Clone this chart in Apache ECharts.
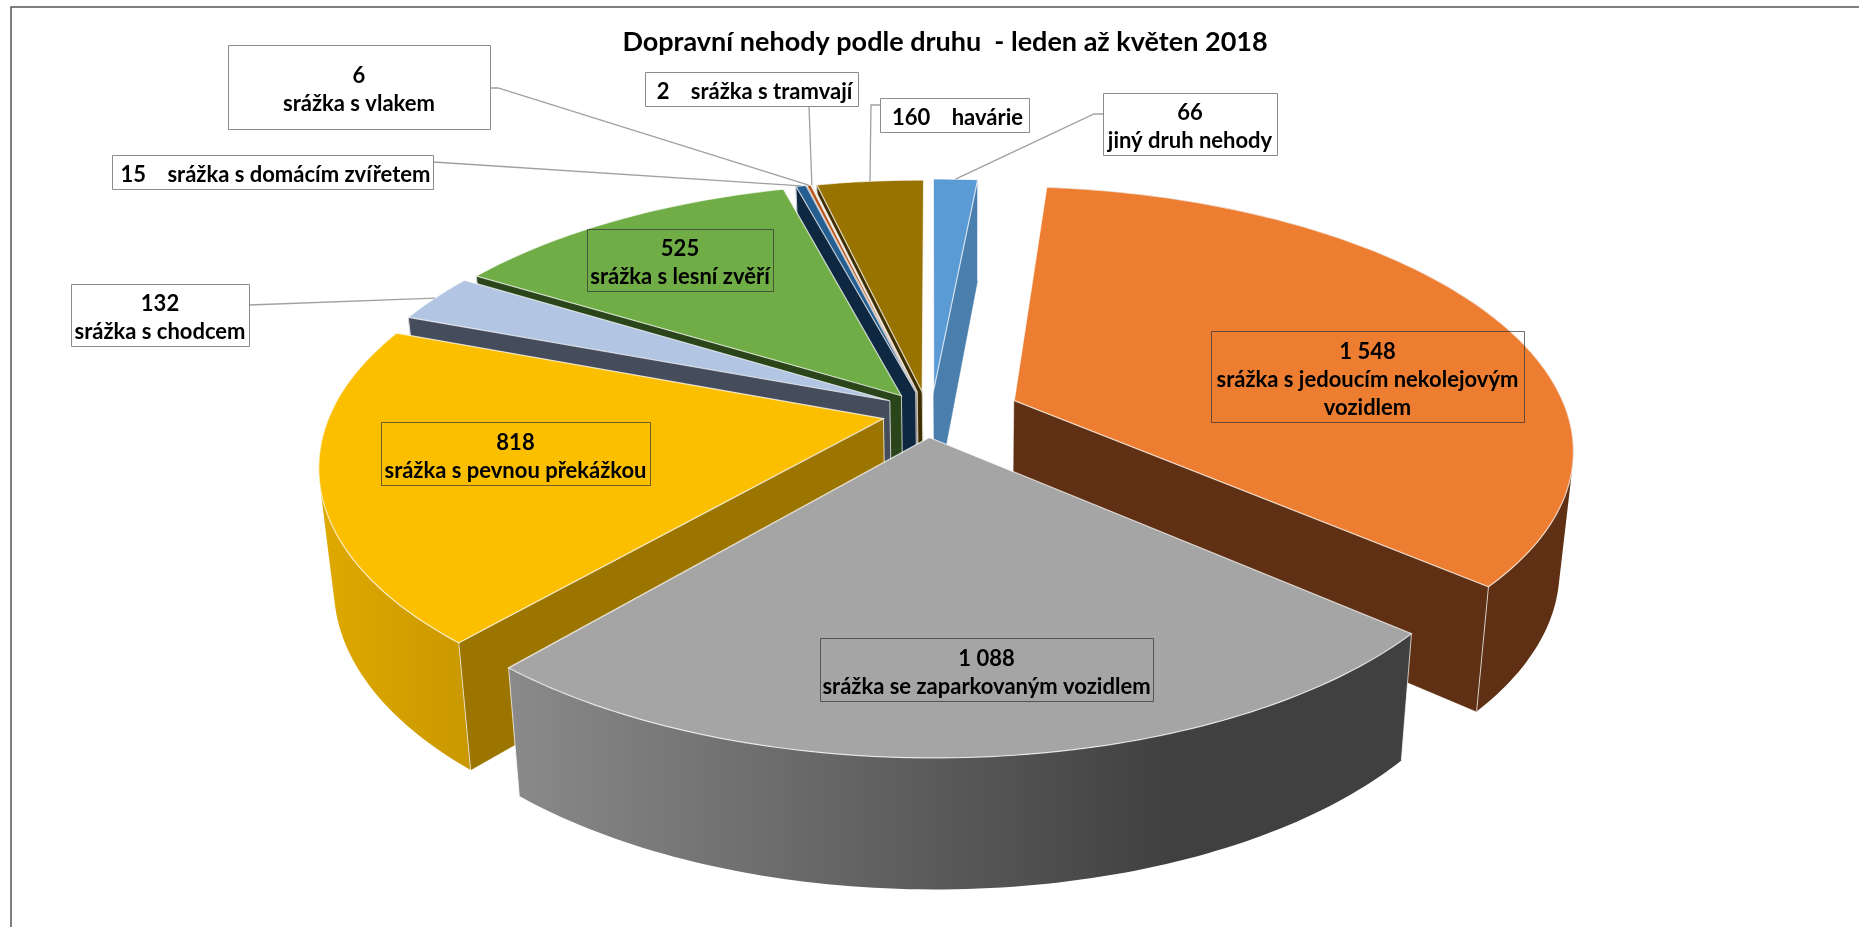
<!DOCTYPE html>
<html><head><meta charset="utf-8">
<script src="https://cdn.jsdelivr.net/npm/echarts@6/dist/echarts.min.js"></script>
<style>html,body{margin:0;padding:0;background:#fff}#c{width:1859px;height:927px}</style>
</head><body><div id="c"></div>
<script>
const categories=['jiný druh nehody','srážka s jedoucím nekolejovým\nvozidlem','srážka se zaparkovaným vozidlem','srážka s pevnou překážkou','srážka s chodcem','srážka s lesní zvěří','srážka s domácím zvířetem','srážka s vlakem','srážka s tramvají','havárie'];
const values=[66,1548,1088,818,132,525,15,6,2,160];
const valueLabels=['66','1 548','1 088','818','132','525','15','6','2','160'];
const titleText='Dopravní nehody podle druhu  - leden až květen 2018';

// slice styles
const topColors=['#5b9bd5','#ed7d31','#a5a5a5','#fbbf00','#b2c6e4','#70ad47','#255e91','#b5551a','#d9c8b8','#997300'];
const faceColors=['#4a7ead','#5f3013','#636363','#9c7500','#454c5c','#2a451a','#0e2841','#5f2b08','#827870','#3f2f00'];
const rimColors=[null,null,['#8a8a8a','#404040',510,1170],['#dfa900','#c99800',320,470]];
// explosion of each slice on the pie's plane
const explode=[[.003,.006],[.15,-.035],[-.006,-.178],[-.088,-.105],[-.077,-.035],[-.056,-.015],[-.03,0],[-.028,0],[-.027,0],[-.018,0]];
const drawOrder=[0,9,8,7,6,5,4,3,1,2];
// label boxes: x, y, w, h, filled, inline
const boxes=[[1103,93,174,62,1,0],[1211,331,313,91,0,0],[820,638,333,63,0,0],[381,422,269,63,0,0],[71,284,178,62,1,0],[587,229,186,62,0,0],[112,155,321,34,1,1],[228,45,262,84,1,0],[645,72,213,34,1,1],[880,98,149,34,1,1]];
// leader start points for outside labels
const leaders=[[[1103,114],[1094,114]],null,null,null,[[249,305]],null,[[433,162]],[[490,88],[498,88]],[[809,106]],[[880,105],[871,105]]];

const P={cx:932,cy:392,a:545,b:248,p:.17,twist:.0436,h0:115,h1:14,bc:972,bk:.977};
function project(X,Y){
  if(Y<0){const s=P.twist*-Y;const nx=X+(-Y)*s, ny=Y+X*s;X=nx;Y=ny;}
  const w=1+P.p*Y;
  const sx=P.cx+P.a*X/w, sy=P.cy-P.b*Y/w;
  const H=P.h0-P.h1*Y;
  return {t:[sx,sy],b:[P.bc+P.bk*(sx-P.bc),sy+H]};
}
const total=values.reduce((s,v)=>s+v,0);
let acc=0;
const spans=values.map(v=>{const a0=acc/total*2*Math.PI;acc+=v;return [a0,acc/total*2*Math.PI];});
function rimPoint(i,th){const e=explode[i];return project(e[0]+Math.sin(th),e[1]+Math.cos(th));}
function cross(a,b,c){return (b[0]-a[0])*(c[1]-b[1])-(b[1]-a[1])*(c[0]-b[0]);}
const edge='rgba(255,255,255,0.72)';
function poly(points,fill,stroke,lw){return {type:'polygon',shape:{points},style:{fill,stroke:stroke||fill,lineWidth:lw==null?0.5:lw}};}
function line(points,color,lw){return {type:'polyline',shape:{points},style:{fill:null,stroke:color,lineWidth:lw}};}
// A wall is many quads filled as one path, so no seams appear between them.
echarts.graphic.registerShape('wall',echarts.graphic.extendShape({
  shape:{quads:[]},
  buildPath(ctx,shape){
    shape.quads.forEach(q=>{
      let area=0;
      q.forEach((p,k)=>{const r=q[(k+1)%4];area+=p[0]*r[1]-r[0]*p[1];});
      const pts=area<0?q.slice().reverse():q;
      ctx.moveTo(pts[0][0],pts[0][1]);
      for(let k=1;k<4;k++)ctx.lineTo(pts[k][0],pts[k][1]);
      ctx.closePath();
    });
  }
}));

function renderSlice(params,api){
  const i=api.value(0);
  const [a0,a1]=spans[i];
  const n=Math.max(2,Math.ceil((a1-a0)/(Math.PI/180)));
  const rim=[];
  for(let k=0;k<=n;k++)rim.push(rimPoint(i,a0+(a1-a0)*k/n));
  const apex=project(explode[i][0],explode[i][1]);
  const S=rim[0],E=rim[n];
  const children=[];
  // outer wall, swept from top rim to bottom rim
  let rimFill=faceColors[i];
  const g=rimColors[i];
  if(g)rimFill={type:'linear',x:g[2],y:0,x2:g[3],y2:0,global:true,colorStops:[{offset:0,color:g[0]},{offset:1,color:g[1]}]};
  if(i>=1&&i<=3){
    const quads=[];
    for(let k=0;k<n;k++)quads.push([rim[k].t,rim[k+1].t,rim[k+1].b,rim[k].b]);
    children.push({type:'wall',shape:{quads},style:{fill:rimFill,stroke:null}});
  }
  // cut faces that look at the viewer
  if(cross(apex.t,S.t,S.b)<0){
    children.push(poly([apex.t,S.t,S.b,apex.b],faceColors[i]));
    children.push(line([apex.t,apex.b],edge,1));
    children.push(line([S.t,S.b],edge,1));
  }
  if(i<=1&&cross(apex.t,E.t,E.b)>0){
    children.push(poly([apex.t,E.t,E.b,apex.b],faceColors[i]));
    children.push(line([E.t,E.b],edge,1));
  }
  if(i===2){children.push(line([S.t,S.b],edge,1),line([E.t,E.b],edge,1));}
  // top surface
  children.push(poly([apex.t].concat(rim.map(r=>r.t)),topColors[i],edge,1.2));
  return {type:'group',children};
}
function labelText(i){
  return boxes[i][5]?valueLabels[i]+'    '+categories[i]:valueLabels[i]+'\n'+categories[i];
}
function renderLabel(params,api){
  const i=api.value(0);
  const [x,y,w,h,filled,inline]=boxes[i];
  const children=[];
  if(leaders[i]){
    const [a0,a1]=spans[i];
    const end=rimPoint(i,(a0+a1)/2).t;
    children.push(line(leaders[i].concat([end]),'#a0a0a0',1.3));
  }
  children.push({type:'rect',shape:{x:x+.5,y:y+.5,width:w,height:h},style:{fill:filled?'#fff':'transparent',stroke:filled?'#8c8c8c':'rgba(50,50,50,.7)',lineWidth:1}});
  children.push({type:'text',style:{text:labelText(i),x:x+w/2+(inline?3:0),y:y+h/2+3,align:'center',verticalAlign:'middle',fill:'#000',fontFamily:'Lato',fontWeight:'bold',fontSize:22,lineHeight:28}});
  return {type:'group',children};
}
const chart=echarts.init(document.getElementById('c'),null,{renderer:'canvas',width:1859,height:927});
chart.setOption({
  animation:false,backgroundColor:'#fff',tooltip:{show:false},
  title:{text:titleText,left:940,top:24,textAlign:'center',textStyle:{fontFamily:'Lato',fontWeight:'bold',fontSize:27,color:'#000'}},
  graphic:[{type:'rect',silent:true,shape:{x:11,y:7,width:1900,height:960},style:{fill:'none',stroke:'#555',lineWidth:1.5}}],
  series:[
    {type:'custom',coordinateSystem:'none',silent:true,renderItem:renderSlice,data:drawOrder.map(i=>[i]),z:2},
    {type:'custom',coordinateSystem:'none',silent:true,renderItem:renderLabel,data:values.map((v,i)=>[i,v]),z:3}
  ]
});
</script></body></html>
